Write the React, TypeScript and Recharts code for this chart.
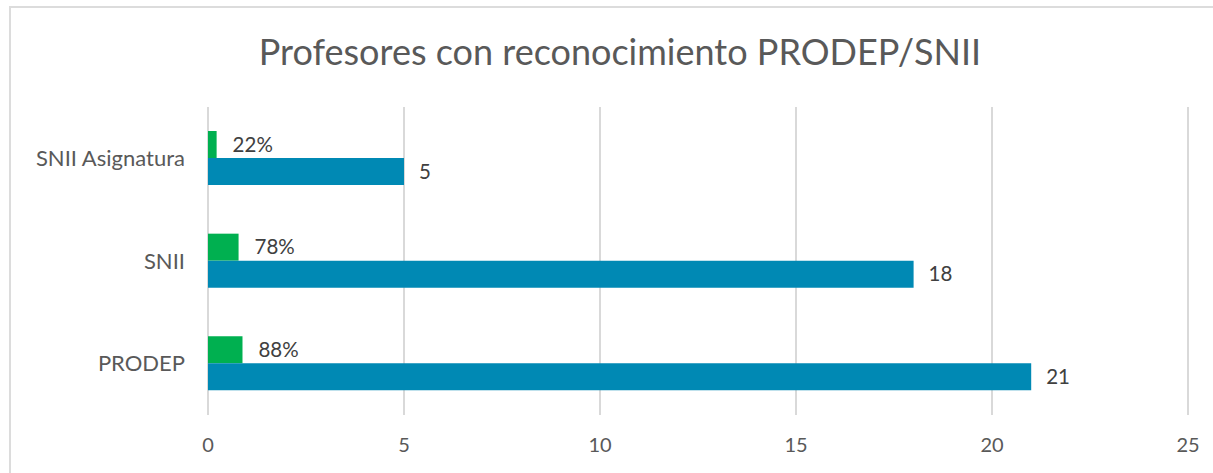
import { BarChart, Bar, XAxis, YAxis, CartesianGrid, LabelList } from "recharts"

const categories = ["SNII Asignatura", "SNII", "PRODEP"]
const porcentajes = [0.22, 0.78, 0.88]
const profesores = [5, 18, 21]
const xTicks = [0, 5, 10, 15, 20, 25]

const data = categories.map((name, i) => ({
  name,
  pct: porcentajes[i],
  total: profesores[i],
}))

const FONT = "Lato, 'Open Sans', sans-serif"

export default function App() {
  return (
    <div style={{ position: "absolute", left: 0, top: 0, width: 1213, height: 473, background: "#fff", overflow: "hidden" }}>
      {/* frame: only top and left edges visible in the source */}
      <div
        style={{
          position: "absolute",
          left: 9,
          top: 6,
          right: -10,
          bottom: -10,
          borderTop: "2px solid #dcdcdc",
          borderLeft: "2px solid #dcdcdc",
        }}
      />
      <div
        style={{
          position: "absolute",
          top: 28,
          left: 0,
          width: 1240,
          textAlign: "center",
          fontFamily: FONT,
          fontSize: 36,
          color: "#595959",
          lineHeight: "46px",
        }}
      >
        Profesores con reconocimiento PRODEP/SNII
      </div>
      <BarChart
        layout="vertical"
        width={1213}
        height={473}
        data={data}
        margin={{ top: 107, right: 25, bottom: 18, left: 10 }}
        barCategoryGap={24}
        barGap={0}
        style={{ position: "absolute", left: 0, top: 0 }}
      >
        <CartesianGrid horizontal={false} stroke="#d9d9d9" strokeWidth={2} />
        <XAxis
          type="number"
          domain={[0, 25]}
          ticks={xTicks}
          height={40}
          axisLine={false}
          tickLine={false}
          tickSize={0}
          tickMargin={23}
          tick={{ fontSize: 20, fill: "#595959", fontFamily: FONT }}
        />
        <YAxis
          type="category"
          dataKey="name"
          width={198}
          axisLine={false}
          tickLine={false}
          tickSize={0}
          tickMargin={23}
          tick={{ fontSize: 22, fill: "#595959", fontFamily: FONT }}
        />
        <Bar dataKey="pct" fill="#00b050" isAnimationActive={false}>
          <LabelList
            dataKey="pct"
            position="right"
            offset={16}
            formatter={(v: number) => `${Math.round(v * 100)}%`}
            style={{ fontSize: 20.5, fill: "#404040", fontFamily: FONT }}
          />
        </Bar>
        <Bar dataKey="total" fill="#0089b4" isAnimationActive={false}>
          <LabelList
            dataKey="total"
            position="right"
            offset={15}
            style={{ fontSize: 20.5, fill: "#404040", fontFamily: FONT }}
          />
        </Bar>
      </BarChart>
    </div>
  )
}
